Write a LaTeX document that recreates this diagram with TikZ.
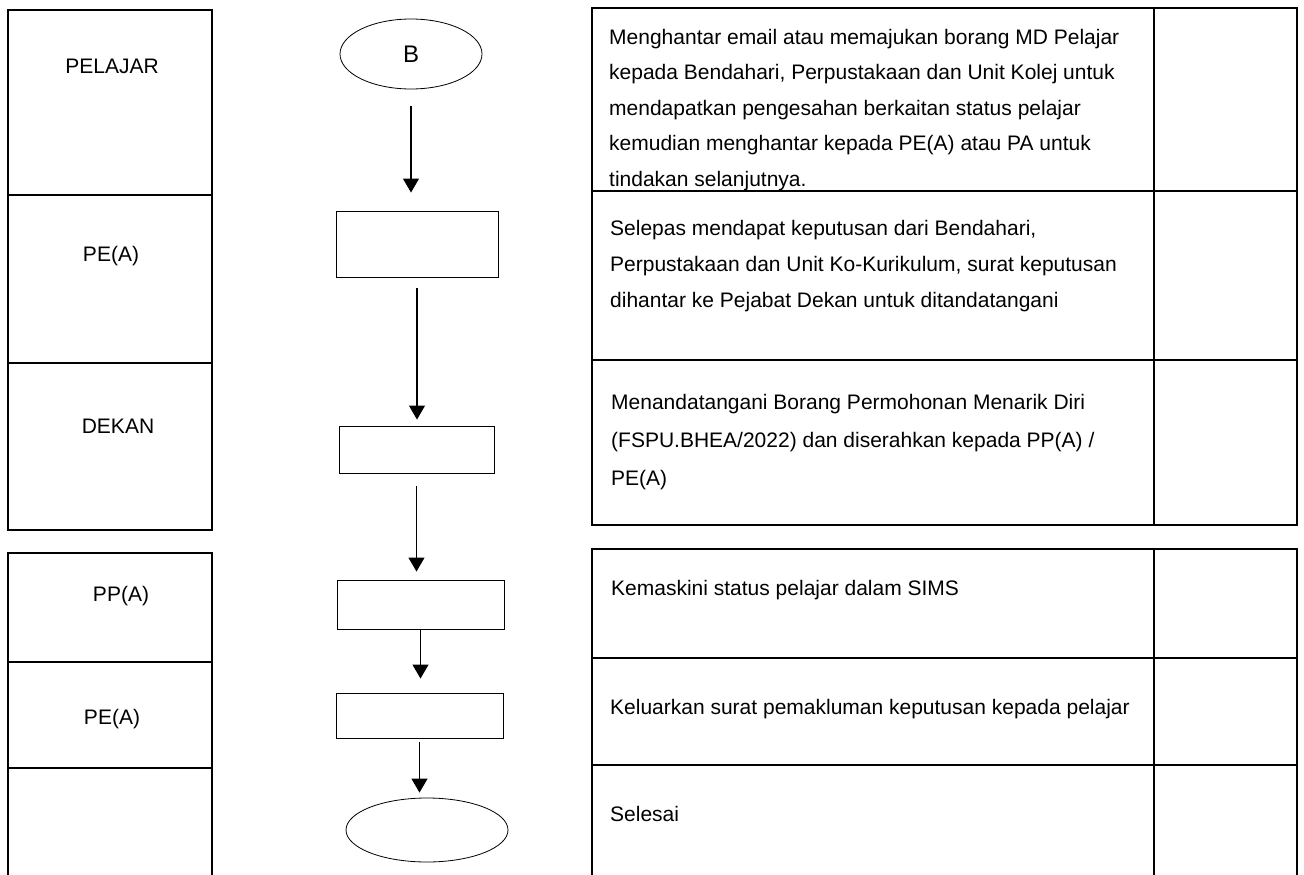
\documentclass[tikz,border=0pt]{standalone}
\usepackage{fontspec}
\setmainfont{Liberation Sans}
\usetikzlibrary{arrows.meta,shapes.geometric}

\begin{document}
\begin{tikzpicture}[x=1pt,y=-1pt,
    garis/.style={line width=1.4pt},
    kotak/.style={draw, line width=0.9pt, inner sep=0pt},
    bujur/.style={draw, ellipse, line width=0.8pt, inner sep=0pt},
    panah/.style={line width=1.1pt, -{Triangle[width=16pt,length=14pt]}},
    peranan/.style={font=\fontsize{21}{25}\selectfont, anchor=base, inner sep=0pt},
    teks/.style={font=\fontsize{21}{35.5}\selectfont, align=left, anchor=base west, inner sep=0pt}]
    \useasboundingbox (0,0) rectangle (1304,875);

    %LAJUR KIRI
    \draw[garis] (8,10) rectangle (212,530);
    \draw[garis] (8,195) -- (212,195);
    \draw[garis] (8,363) -- (212,363);
    \draw[garis] (8,875) -- (8,553) -- (212,553) -- (212,875);
    \draw[garis] (8,662) -- (212,662);
    \draw[garis] (8,768) -- (212,768);

    \node[peranan] (pelajar) at (112,74) {PELAJAR};
    \node[peranan] (pea) at (111,261) {PE(A)};
    \node[peranan] (dekan) at (118,433) {DEKAN};
    \node[peranan] (ppa) at (121,601) {PP(A)};
    \node[peranan] (pea2) at (112,724) {PE(A)};

    %CARTA ALIR
    \node[bujur, minimum width=142, minimum height=70, font=\fontsize{24}{28}\selectfont] (mula) at (411,54) {B};
    \node[kotak, minimum width=162, minimum height=66] (k1) at (417,244) {};
    \node[kotak, minimum width=155, minimum height=47] (k2) at (416.5,449.5) {};
    \node[kotak, minimum width=167, minimum height=49] (k3) at (420.5,604.5) {};
    \node[kotak, minimum width=167, minimum height=45] (k4) at (419.5,715.5) {};
    \node[bujur, minimum width=162, minimum height=64] (tamat) at (427,830) {};

    \draw[panah, shorten <=17pt, shorten >=18pt] (mula.south) -- (mula.south |- k1.north);
    \draw[panah, shorten <=11pt, shorten >=6pt] (k1.south) -- (k1.south |- k2.north);
    \draw[panah, shorten <=13pt, shorten >=8pt] (k2.south) -- (k2.south |- k3.north);
    \draw[panah, shorten >=14pt] (k3.south) -- (k3.south |- k4.north);
    \draw[panah, shorten <=4pt, shorten >=5pt] (k4.south) -- (k4.south |- tamat.north);

    %JADUAL
    \draw[garis] (592,8) rectangle (1297,525);
    \draw[garis] (1154,8) -- (1154,525);
    \draw[garis] (592,191) -- (1297,191);
    \draw[garis] (592,360) -- (1297,360);
    \draw[garis] (592,875) -- (592,549) -- (1297,549) -- (1297,875);
    \draw[garis] (1154,549) -- (1154,875);
    \draw[garis] (592,658) -- (1297,658);
    \draw[garis] (592,765) -- (1297,765);

    % baris akhir setiap teks
    \node[teks] (t1) at (609,186) {Menghantar email atau memajukan borang MD Pelajar\\
        kepada Bendahari, Perpustakaan dan Unit Kolej untuk\\
        mendapatkan pengesahan berkaitan status pelajar\\
        kemudian menghantar kepada PE(A) atau PA untuk\\
        tindakan selanjutnya.};
    \node[teks, font=\fontsize{21}{36}\selectfont] (t2) at (610,307) {Selepas mendapat keputusan dari Bendahari,\\
        Perpustakaan dan Unit Ko-Kurikulum, surat keputusan\\
        dihantar ke Pejabat Dekan untuk ditandatangani};
    \node[teks, font=\fontsize{21}{38}\selectfont] (t3) at (611,485) {Menandatangani Borang Permohonan Menarik Diri\\
        (FSPU.BHEA/2022) dan diserahkan kepada PP(A) /\\
        PE(A)};
    \node[teks] (t4) at (611,595) {Kemaskini status pelajar dalam SIMS};
    \node[teks] (t5) at (610,714) {Keluarkan surat pemakluman keputusan kepada pelajar};
    \node[teks] (t6) at (610,821) {Selesai};
\end{tikzpicture}
\end{document}
